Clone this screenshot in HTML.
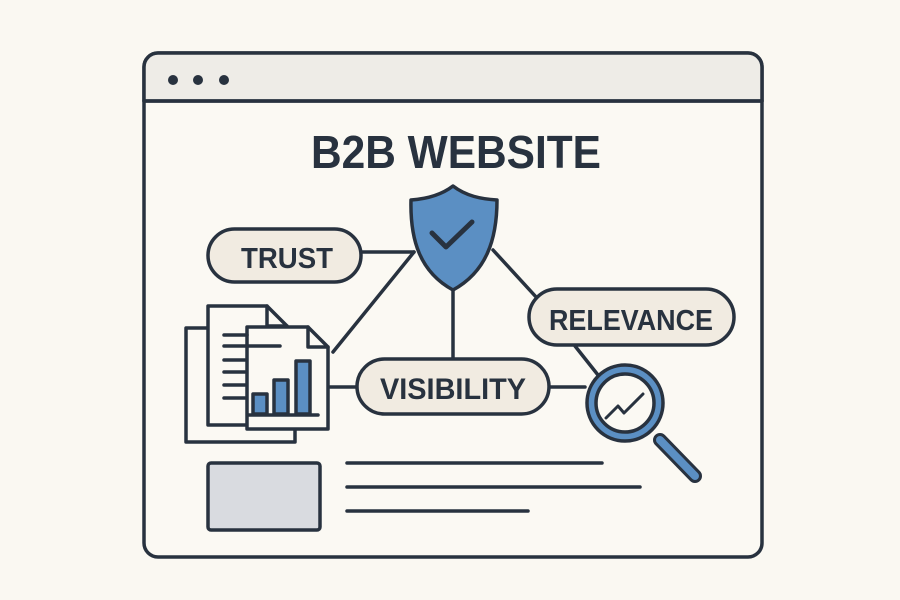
<!DOCTYPE html>
<html><head><meta charset="utf-8"><style>html,body{margin:0;padding:0;background:#faf8f2;}svg{display:block}</style></head>
<body>
<svg width="900" height="600" viewBox="0 0 900 600" xmlns="http://www.w3.org/2000/svg">
<rect width="900" height="600" fill="#faf8f2"/>
<g stroke="#28323f" stroke-width="3.5" fill="none" stroke-linecap="round" stroke-linejoin="round">
<rect x="144" y="53" width="618" height="504" rx="14" fill="#fbf9f3"/>
<path d="M144 101 V67 a14 14 0 0 1 14 -14 H748 a14 14 0 0 1 14 14 V101 Z" fill="#eeece7"/>
<line x1="144" y1="101" x2="762" y2="101"/>
<!-- connectors -->
<line x1="361" y1="252" x2="414" y2="252"/>
<line x1="414" y1="252" x2="333" y2="352"/>
<line x1="453" y1="290" x2="453" y2="359"/>
<line x1="330" y1="387" x2="357" y2="387"/>
<line x1="493" y1="250" x2="537" y2="298"/>
<line x1="575" y1="346" x2="598" y2="375"/>
<line x1="549" y1="387" x2="585" y2="387"/>
<!-- pills -->
<rect x="208" y="229" width="153" height="53" rx="26.5" fill="#f1ebe1"/>
<rect x="357" y="359" width="192" height="55" rx="27.5" fill="#f1ebe1"/>
<rect x="529" y="289" width="205" height="56" rx="28" fill="#f1ebe1"/>
<!-- shield -->
<path d="M453 186 C440 196 425 199 411 200 C410 240 420 272 453 290 C486 272 497 240 497 200 C481 199 466 196 453 186 Z" fill="#5b8fc3"/>
<path d="M432 233 L446 247 L472 222" stroke-width="5"/>
<!-- docs -->
<rect x="186" y="328" width="109" height="114" fill="#fbf9f3"/>
<path d="M208 306 H267 L287 326 V425 H208 Z" fill="#fbf9f3"/>
<path d="M267 306 V326 H287"/>
<path d="M247 327 H308 L328 347 V429 H247 Z" fill="#fbf9f3"/>
<path d="M308 327 V347 H328"/>
<line x1="224" y1="335" x2="247" y2="335"/>
<line x1="224" y1="346" x2="280" y2="346"/>
<line x1="224" y1="360" x2="245" y2="360"/>
<line x1="224" y1="372" x2="245" y2="372"/>
<line x1="224" y1="385" x2="245" y2="385"/>
<line x1="224" y1="398" x2="245" y2="398"/>
<rect x="253" y="394" width="14" height="20" fill="#5b8fc3"/>
<rect x="274" y="380" width="14" height="34" fill="#5b8fc3"/>
<rect x="296" y="361" width="14" height="53" fill="#5b8fc3"/>
<line x1="248" y1="415" x2="318" y2="415"/>
<!-- magnifier -->
<line x1="660" y1="440" x2="695" y2="476" stroke-width="14"/>
<line x1="660" y1="440" x2="695" y2="476" stroke="#5b8fc3" stroke-width="8"/>
<circle cx="625" cy="403" r="38" fill="#5b8fc3"/>
<circle cx="625" cy="403" r="29" fill="#fbf9f3"/>
<path d="M606 418 L618 406 L624 413 L643 394" stroke-width="3"/>
<!-- bottom -->
<rect x="208" y="463" width="112" height="67" rx="3" fill="#d9dbe0"/>
<line x1="347" y1="463" x2="602" y2="463"/>
<line x1="347" y1="487" x2="640" y2="487"/>
<line x1="347" y1="511" x2="528" y2="511"/>
</g>
<g fill="#28323f">
<circle cx="173" cy="80" r="5"/><circle cx="198" cy="80" r="5"/><circle cx="224" cy="80" r="5"/>
</g>
<g font-family="Liberation Sans, sans-serif" font-weight="bold" fill="#28323f" text-anchor="middle">
<text x="456" y="168" font-size="46" textLength="290" lengthAdjust="spacingAndGlyphs">B2B WEBSITE</text>
<text x="287" y="268" font-size="29" textLength="92" lengthAdjust="spacingAndGlyphs">TRUST</text>
<text x="453" y="399" font-size="30" textLength="146" lengthAdjust="spacingAndGlyphs">VISIBILITY</text>
<text x="631" y="330" font-size="29" textLength="164" lengthAdjust="spacingAndGlyphs">RELEVANCE</text>
</g>
</svg>
</body></html>
